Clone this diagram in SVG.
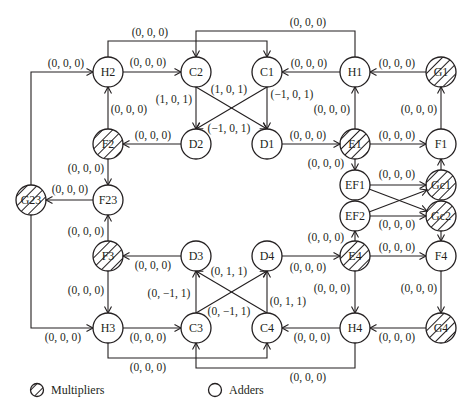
<svg xmlns="http://www.w3.org/2000/svg" width="474" height="414" viewBox="0 0 474 414">
<defs>
<pattern id="hatch" patternUnits="userSpaceOnUse" width="7" height="7" patternTransform="rotate(45)">
<line x1="3.5" y1="0" x2="3.5" y2="7" stroke="#231f20" stroke-width="1"/>
</pattern>
<marker id="arr" markerUnits="userSpaceOnUse" markerWidth="10" markerHeight="10" refX="7" refY="4" orient="auto">
<path d="M0.5,0.5 L7,4 L0.5,7.5" fill="none" stroke="#231f20" stroke-width="1.1"/>
</marker>
</defs>
<style>
.n{fill:#fff;stroke:#231f20;stroke-width:1.3}
.h{fill:url(#hatch);stroke:#231f20;stroke-width:1.3}
.t{font-family:"Liberation Serif","DejaVu Serif",serif;font-size:12px;fill:#231f20;text-anchor:middle}
.l{font-family:"Liberation Serif","DejaVu Serif",serif;font-size:11.5px;fill:#231f20;text-anchor:middle}
.e{fill:none;stroke:#231f20;stroke-width:1.1;marker-end:url(#arr)}
</style>
<rect width="474" height="414" fill="#fff"/>
<g id="connectors">
<path class="e" d="M31,185 V72 H93"/>
<path class="e" d="M31,215 V328 H93"/>
<path class="e" d="M93,200 H46"/>
<path class="e" d="M108,159 V185"/>
<path class="e" d="M108,241 V215"/>
<path class="e" d="M108,129 V87"/>
<path class="e" d="M108,271 V313"/>
<path class="e" d="M181,144 H123"/>
<path class="e" d="M181,256 H123"/>
<path class="e" d="M123,72 H181"/>
<path class="e" d="M123,328 H181"/>
<path class="e" d="M108,57 V41 H267 V57"/>
<path class="e" d="M355,57 V31 H196 V57"/>
<path class="e" d="M108,343 V358 H267 V343"/>
<path class="e" d="M355,343 V368 H196 V343"/>
<path class="e" d="M196,87 V129"/>
<path class="e" d="M267,87 V129"/>
<path class="e" d="M196,87 L267,129"/>
<path class="e" d="M267,87 L196,129"/>
<path class="e" d="M196,313 V271"/>
<path class="e" d="M267,313 V271"/>
<path class="e" d="M196,313 L267,271"/>
<path class="e" d="M267,313 L196,271"/>
<path class="e" d="M282,144 H340"/>
<path class="e" d="M282,256 H340"/>
<path class="e" d="M370,144 H426"/>
<path class="e" d="M370,256 H426"/>
<path class="e" d="M355,129 V87"/>
<path class="e" d="M355,271 V313"/>
<path class="e" d="M441,129 V87"/>
<path class="e" d="M441,271 V313"/>
<path class="e" d="M426,72 H370"/>
<path class="e" d="M426,328 H370"/>
<path class="e" d="M340,72 H282"/>
<path class="e" d="M340,328 H282"/>
<path class="e" d="M355,159 V170"/>
<path class="e" d="M355,241 V231"/>
<path class="e" d="M370,185 H426"/>
<path class="e" d="M370,216 H426"/>
<path class="e" d="M369,189 L427,211"/>
<path class="e" d="M369,212 L427,190"/>
<path class="e" d="M441,170 V159"/>
<path class="e" d="M441,231 V241"/>
</g>
<g id="labels">
<text class="l" x="66" y="67">(0, 0, 0)</text>
<text class="l" x="63" y="341">(0, 0, 0)</text>
<text class="l" x="70" y="193">(0, 0, 0)</text>
<text class="l" x="86" y="172">(0, 0, 0)</text>
<text class="l" x="86" y="235">(0, 0, 0)</text>
<text class="l" x="129" y="113">(0, 0, 0)</text>
<text class="l" x="86" y="294">(0, 0, 0)</text>
<text class="l" x="153" y="139">(0, 0, 0)</text>
<text class="l" x="153" y="269">(0, 0, 0)</text>
<text class="l" x="148" y="66">(0, 0, 0)</text>
<text class="l" x="148" y="341">(0, 0, 0)</text>
<text class="l" x="150" y="36">(0, 0, 0)</text>
<text class="l" x="308" y="26">(0, 0, 0)</text>
<text class="l" x="148" y="371">(0, 0, 0)</text>
<text class="l" x="308" y="381">(0, 0, 0)</text>
<text class="l" x="174" y="103">(1, 0, 1)</text>
<text class="l" x="292" y="98">(−1, 0, 1)</text>
<text class="l" x="229" y="93">(1, 0, 1)</text>
<text class="l" x="229" y="132">(−1, 0, 1)</text>
<text class="l" x="169" y="297">(0, −1, 1)</text>
<text class="l" x="288" y="305">(0, 1, 1)</text>
<text class="l" x="229" y="275">(0, 1, 1)</text>
<text class="l" x="229" y="315">(0, −1, 1)</text>
<text class="l" x="308" y="139">(0, 0, 0)</text>
<text class="l" x="308" y="271">(0, 0, 0)</text>
<text class="l" x="397" y="139">(0, 0, 0)</text>
<text class="l" x="397" y="251">(0, 0, 0)</text>
<text class="l" x="326" y="167">(0, 0, 0)</text>
<text class="l" x="326" y="241">(0, 0, 0)</text>
<text class="l" x="397" y="178">(0, 0, 0)</text>
<text class="l" x="397" y="228">(0, 0, 0)</text>
<text class="l" x="332" y="113">(0, 0, 0)</text>
<text class="l" x="419" y="113">(0, 0, 0)</text>
<text class="l" x="397" y="67">(0, 0, 0)</text>
<text class="l" x="309" y="67">(0, 0, 0)</text>
<text class="l" x="332" y="292">(0, 0, 0)</text>
<text class="l" x="419" y="292">(0, 0, 0)</text>
<text class="l" x="397" y="341">(0, 0, 0)</text>
<text class="l" x="312" y="341">(0, 0, 0)</text>
</g>
<g id="H2"><circle class="n" cx="108" cy="72" r="15"/><text class="t" x="108" y="76">H2</text></g>
<g id="C2"><circle class="n" cx="196" cy="72" r="15"/><text class="t" x="196" y="76">C2</text></g>
<g id="C1"><circle class="n" cx="267" cy="72" r="15"/><text class="t" x="267" y="76">C1</text></g>
<g id="H1"><circle class="n" cx="355" cy="72" r="15"/><text class="t" x="355" y="76">H1</text></g>
<g id="G1"><circle class="h" cx="441" cy="72" r="15"/><text class="t" x="441" y="76">G1</text></g>
<g id="F2"><circle class="h" cx="108" cy="144" r="15"/><text class="t" x="108" y="148">F2</text></g>
<g id="D2"><circle class="n" cx="196" cy="144" r="15"/><text class="t" x="196" y="148">D2</text></g>
<g id="D1"><circle class="n" cx="267" cy="144" r="15"/><text class="t" x="267" y="148">D1</text></g>
<g id="E1"><circle class="h" cx="355" cy="144" r="15"/><text class="t" x="355" y="148">E1</text></g>
<g id="F1"><circle class="n" cx="441" cy="144" r="15"/><text class="t" x="441" y="148">F1</text></g>
<g id="G23"><circle class="h" cx="31" cy="200" r="15"/><text class="t" x="31" y="204">G23</text></g>
<g id="F23"><circle class="n" cx="108" cy="200" r="15"/><text class="t" x="108" y="204">F23</text></g>
<g id="EF1"><circle class="n" cx="355" cy="185" r="15"/><text class="t" x="355" y="189">EF1</text></g>
<g id="EF2"><circle class="n" cx="355" cy="216" r="15"/><text class="t" x="355" y="220">EF2</text></g>
<g id="Gc1"><circle class="h" cx="441" cy="185" r="15"/><text class="t" x="441" y="189">Gc1</text></g>
<g id="Gc2"><circle class="h" cx="441" cy="216" r="15"/><text class="t" x="441" y="220">Gc2</text></g>
<g id="F3"><circle class="h" cx="108" cy="256" r="15"/><text class="t" x="108" y="260">F3</text></g>
<g id="D3"><circle class="n" cx="196" cy="256" r="15"/><text class="t" x="196" y="260">D3</text></g>
<g id="D4"><circle class="n" cx="267" cy="256" r="15"/><text class="t" x="267" y="260">D4</text></g>
<g id="E4"><circle class="h" cx="355" cy="256" r="15"/><text class="t" x="355" y="260">E4</text></g>
<g id="F4"><circle class="n" cx="441" cy="256" r="15"/><text class="t" x="441" y="260">F4</text></g>
<g id="H3"><circle class="n" cx="108" cy="328" r="15"/><text class="t" x="108" y="332">H3</text></g>
<g id="C3"><circle class="n" cx="196" cy="328" r="15"/><text class="t" x="196" y="332">C3</text></g>
<g id="C4"><circle class="n" cx="267" cy="328" r="15"/><text class="t" x="267" y="332">C4</text></g>
<g id="H4"><circle class="n" cx="355" cy="328" r="15"/><text class="t" x="355" y="332">H4</text></g>
<g id="G4"><circle class="h" cx="441" cy="328" r="15"/><text class="t" x="441" y="332">G4</text></g>
<g id="legend">
<circle class="h" cx="37" cy="390" r="6.5"/>
<text class="t" x="51" y="394" style="text-anchor:start">Multipliers</text>
<circle class="n" cx="215" cy="390" r="6.5"/>
<text class="t" x="229" y="394" style="text-anchor:start">Adders</text>
</g>
</svg>
